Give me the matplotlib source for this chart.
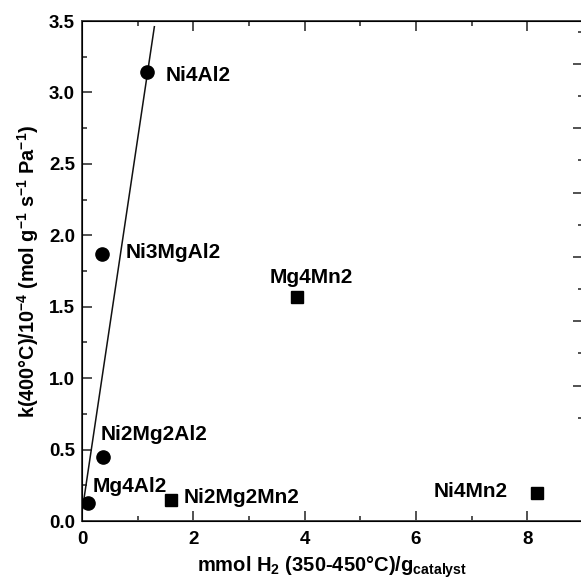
import matplotlib
matplotlib.use("Agg")
import matplotlib.pyplot as plt
from matplotlib.ticker import MultipleLocator, NullFormatter

plt.rcParams["font.family"] = ["Liberation Sans", "DejaVu Sans"]
plt.rcParams["font.weight"] = "bold"
plt.rcParams["mathtext.fontset"] = "custom"
plt.rcParams["mathtext.rm"] = "Liberation Sans:bold"
plt.rcParams["mathtext.bf"] = "Liberation Sans:bold"
plt.rcParams["mathtext.it"] = "Liberation Sans:bold"
plt.rcParams["mathtext.default"] = "bf"

# Ni/Al based catalysts (circles)
al_names = ["Ni4Al2", "Ni3MgAl2", "Ni2Mg2Al2", "Mg4Al2"]
al_h2 = [1.17, 0.365, 0.38, 0.11]
al_k = [3.14, 1.87, 0.45, 0.124]

# Mn based catalysts (squares)
mn_names = ["Mg4Mn2", "Ni2Mg2Mn2", "Ni4Mn2"]
mn_h2 = [3.87, 1.60, 8.17]
mn_k = [1.57, 0.147, 0.196]

# straight line drawn through the Al series
fit_h2 = [0.0, 1.30]
fit_k = [0.063, 3.46]

# label placement: (dx, dy) in points, horizontal alignment
label_pos = {
    "Ni4Al2": (13, -2, "left"),
    "Ni3MgAl2": (17, 1, "left"),
    "Ni2Mg2Al2": (-2, 16, "left"),
    "Mg4Al2": (3, 12, "left"),
    "Mg4Mn2": (10, 14, "center"),
    "Ni2Mg2Mn2": (9, 1.5, "left"),
    "Ni4Mn2": (-21, 1, "right"),
}

fig = plt.figure(figsize=(5.81, 5.79), dpi=100)
ax = fig.add_axes([82 / 581, 1 - 521 / 579, 501 / 581, 500 / 579])

ax.plot(fit_h2,
        fit_k,
        color="#111111",
        lw=1.1,
        zorder=2)
ax.plot(al_h2,
        al_k,
        ls="none",
        marker="o",
        ms=9.5,
        color="black",
        zorder=3)
ax.plot(mn_h2,
        mn_k,
        ls="none",
        marker="s",
        ms=8.5,
        color="black",
        zorder=3)

for names, xs, ys in [(al_names, al_h2, al_k),
                      (mn_names, mn_h2, mn_k)]:
    for name, x, y in zip(names, xs, ys):
        dx, dy, ha = label_pos[name]
        ax.annotate(name,
                    (x, y),
                    xytext=(dx, dy),
                    textcoords="offset points",
                    ha=ha,
                    va="center",
                    fontsize=15,
                    fontweight="bold")

ax.set_xlim(0, 9)
ax.set_ylim(0, 3.5)
ax.xaxis.set_major_locator(MultipleLocator(2))
ax.xaxis.set_minor_locator(MultipleLocator(1))
ax.yaxis.set_major_locator(MultipleLocator(0.5))
ax.yaxis.set_minor_locator(MultipleLocator(0.25))
ax.yaxis.set_major_formatter(plt.FormatStrFormatter("%.1f"))
ax.tick_params(which="both",
               direction="in",
               top=True,
               right=False,
               width=1.2,
               color="#333333",
               labelsize=13.5)
ax.tick_params(which="major", length=7)
ax.tick_params(which="minor", length=3.5)
ax.tick_params(axis="x", pad=7)
ax.tick_params(axis="y", pad=5)
for side in ax.spines:
    ax.spines[side].set_linewidth(1.4)
    ax.spines[side].set_color("#444444")

# right-hand ticks belong to a neighbouring panel
ax2 = ax.twinx()
ax2.set_ylim(-0.107, 7.669)
ax2.set_yticks([2, 3, 4, 5, 6, 7])
ax2.set_yticks([1.5, 2.5, 3.5, 4.5, 5.5, 6.5, 7.5], minor=True)
ax2.yaxis.set_major_formatter(NullFormatter())
ax2.tick_params(which="both",
                direction="in",
                width=1.2,
                color="#333333")
ax2.tick_params(which="major", length=7)
ax2.tick_params(which="minor", length=3.5)

ax.set_xlabel("mmol H$_2$ (350-450°C)/g$_{catalyst}$",
              fontsize=14.5,
              fontweight="bold",
              labelpad=5)
ax.set_ylabel("k(400°C)/10$^{-4}$ (mol g$^{-1}$ s$^{-1}$ Pa$^{-1}$)",
              fontsize=14.3,
              fontweight="bold",
              labelpad=6)

plt.savefig("out.png", dpi=100)
plt.close()
